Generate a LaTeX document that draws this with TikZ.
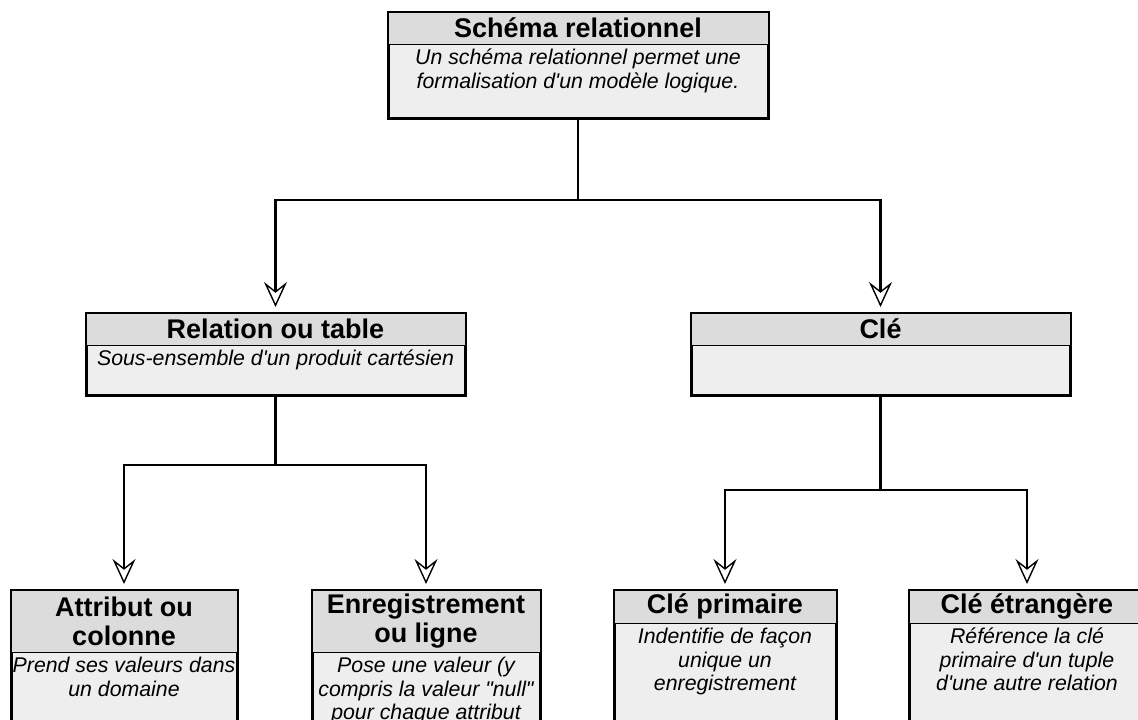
\documentclass[tikz,border=0pt]{standalone}
\usepackage{fontspec}
\newfontfamily\diagfont{Liberation Sans}
\usepackage{tikz}
\usetikzlibrary{arrows.meta}
\definecolor{hdrgray}{RGB}{220,220,220}
\definecolor{bodygray}{RGB}{238,238,238}
\tikzset{
  bodybox/.style={rectangle, draw=black, line width=3pt, fill=bodygray,
                  inner sep=0pt, outer sep=0pt},
  hdrbox/.style={rectangle, draw=black, line width=1pt, fill=hdrgray,
                 inner sep=0pt, outer sep=0pt, align=center,
                 font=\diagfont\bfseries\fontsize{27}{29}\selectfont},
  bodytxt/.style={inner sep=2pt, align=center, yshift=-3pt,
                  font=\diagfont\itshape\fontsize{21.3}{23.5}\selectfont},
  link/.style={line width=2.2pt},
  arr/.style={link, shorten >=6pt,
              -{Stealth[open, fill=white, length=25pt, width=23pt, inset=9pt, line width=1.4pt]}},
}
\begin{document}
\begin{tikzpicture}[x=1pt, y=-1pt]
  \useasboundingbox (0,0) rectangle (1138,720);
  \clip (0,0) rectangle (1138,720);

  % top level
  \node[bodybox, minimum width=380, minimum height=106] (top) at (578,65) {};
  \node[hdrbox, minimum width=380, minimum height=32, anchor=north] (topH) at (top.north) {Schéma relationnel};
  \node[bodytxt, anchor=north] (topT) at (topH.south) {Un schéma relationnel permet une\\formalisation d'un modèle logique.};

  % second level
  \node[bodybox, minimum width=379, minimum height=82] (rel) at (275.5,354) {};
  \node[hdrbox, minimum width=379, minimum height=32, anchor=north] (relH) at (rel.north) {Relation ou table};
  \node[bodytxt, anchor=north] (relT) at (relH.south) {Sous-ensemble d'un produit cartésien};

  \node[bodybox, minimum width=379, minimum height=82] (cle) at (880.5,354) {};
  \node[hdrbox, minimum width=379, minimum height=32, anchor=north] (cleH) at (cle.north) {Clé};

  % third level (boxes run past the bottom edge)
  \node[bodybox, minimum width=226, minimum height=160] (attr) at (124,670) {};
  \node[hdrbox, minimum width=226, minimum height=62, anchor=north] (attrH) at (attr.north) {Attribut ou\\colonne};
  \node[bodytxt, anchor=north] (attrT) at (attrH.south) {Prend ses valeurs dans\\un domaine};

  \node[bodybox, minimum width=228, minimum height=160] (enrg) at (426,670) {};
  \node[hdrbox, minimum width=228, minimum height=62, anchor=north] (enrgH) at (enrg.north) {Enregistrement\\ou ligne};
  \node[bodytxt, anchor=north] (enrgT) at (enrgH.south) {Pose une valeur (y\\compris la valeur "null"\\pour chaque attribut};

  \node[bodybox, minimum width=222, minimum height=160] (prim) at (725,670) {};
  \node[hdrbox, minimum width=222, minimum height=33, anchor=north] (primH) at (prim.north) {Clé primaire};
  \node[bodytxt, anchor=north] (primT) at (primH.south) {Indentifie de façon\\unique un\\enregistrement};

  \node[bodybox, minimum width=236, minimum height=160] (etr) at (1027,670) {};
  \node[hdrbox, minimum width=236, minimum height=33, anchor=north] (etrH) at (etr.north) {Clé étrangère};
  \node[bodytxt, anchor=north] (etrT) at (etrH.south) {Référence la clé\\primaire d'un tuple\\d'une autre relation};

  % connectors
  \coordinate (j1) at (578,200);
  \coordinate (j2) at (275.5,465);
  \coordinate (j3) at (880.5,490);
  \draw[link] (top.south) -- (j1);
  \draw[arr] (j1) -| (rel.north);
  \draw[arr] (j1) -| (cle.north);
  \draw[link] (rel.south) -- (j2);
  \draw[arr] (j2) -| (attr.north);
  \draw[arr] (j2) -| (enrg.north);
  \draw[link] (cle.south) -- (j3);
  \draw[arr] (j3) -| (prim.north);
  \draw[arr] (j3) -| (etr.north);
\end{tikzpicture}
\end{document}
